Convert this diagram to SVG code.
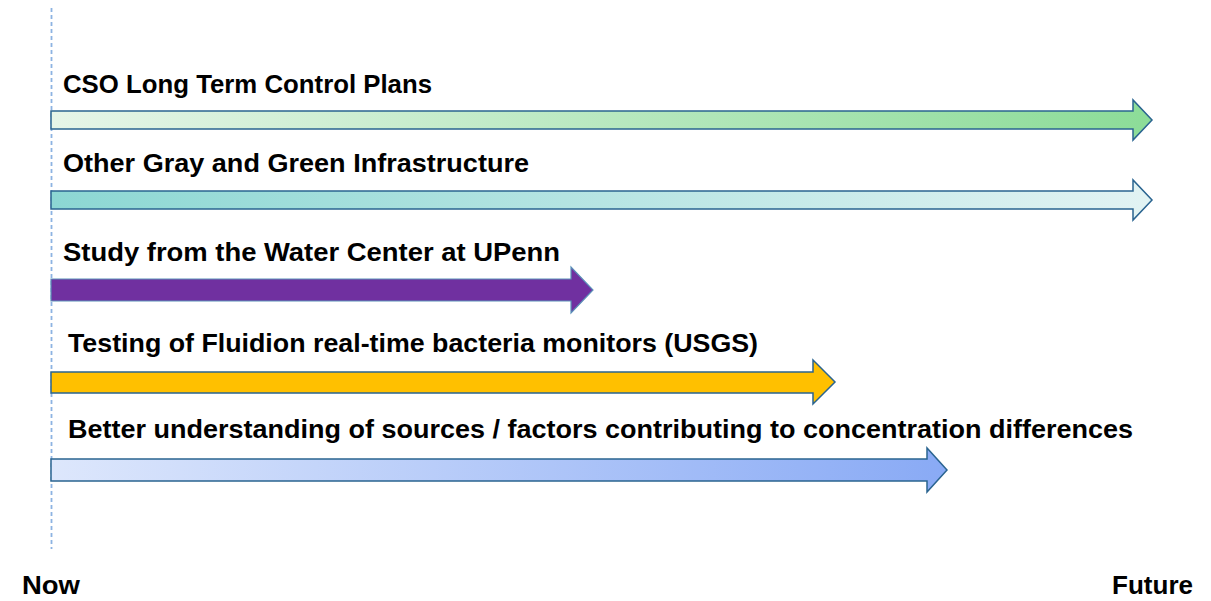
<svg xmlns="http://www.w3.org/2000/svg" width="1211" height="601" viewBox="0 0 1211 601">
<defs>
<linearGradient id="g1" x1="0" y1="0" x2="1" y2="0"><stop offset="0" stop-color="#e6f5e8"/><stop offset="1" stop-color="#8cdc98"/></linearGradient>
<linearGradient id="g2" x1="0" y1="0" x2="1" y2="0"><stop offset="0" stop-color="#8cd7d3"/><stop offset="1" stop-color="#e2f3f3"/></linearGradient>
<linearGradient id="g5" x1="0" y1="0" x2="1" y2="0"><stop offset="0" stop-color="#dde7fc"/><stop offset="1" stop-color="#89aaf5"/></linearGradient>
</defs>
<style>
.t{font-family:"Liberation Sans",Arial,sans-serif;font-weight:bold;font-size:26px;fill:#000}
.a{stroke:#2a6490;stroke-width:1.5;stroke-linejoin:miter}
.as{stroke:#5a8fb8;stroke-width:1.2}
</style>
<line id="now-line" x1="51.5" y1="8" x2="51.5" y2="549" stroke="#8db3e2" stroke-width="1.8" stroke-dasharray="4 3"/>
<g id="connectors">
<path class="a" fill="url(#g1)" d="M51,111 H1133 V100 L1152,120 L1133,140 V129 H51 Z"/>
<path class="a" fill="url(#g2)" d="M51,191 H1133 V180 L1152,200 L1133,220 V209 H51 Z"/>
<path class="as" fill="#7030a0" d="M51,279 H571 V267 L593,290 L571,313 V301 H51 Z"/>
<path class="a" fill="#ffc000" d="M51,372 H813 V360 L835,382 L813,404 V393 H51 Z"/>
<path class="a" fill="url(#g5)" d="M51,459 H927 V448 L947,470 L927,492 V481 H51 Z"/>
</g>
<g id="n1"><text class="t" x="63" y="93" textLength="369" lengthAdjust="spacingAndGlyphs">CSO Long Term Control Plans</text></g>
<g id="n2"><text class="t" x="63" y="172" textLength="466" lengthAdjust="spacingAndGlyphs">Other Gray and Green Infrastructure</text></g>
<g id="n3"><text class="t" x="63" y="261" textLength="497" lengthAdjust="spacingAndGlyphs">Study from the Water Center at UPenn</text></g>
<g id="n4"><text class="t" x="68" y="352" textLength="690" lengthAdjust="spacingAndGlyphs">Testing of Fluidion real-time bacteria monitors (USGS)</text></g>
<g id="n5"><text class="t" x="68" y="438" textLength="1065" lengthAdjust="spacingAndGlyphs">Better understanding of sources / factors contributing to concentration differences</text></g>
<g id="now"><text class="t" x="22" y="594" textLength="58" lengthAdjust="spacingAndGlyphs">Now</text></g>
<g id="future"><text class="t" x="1112" y="594" textLength="81" lengthAdjust="spacingAndGlyphs">Future</text></g>
</svg>
